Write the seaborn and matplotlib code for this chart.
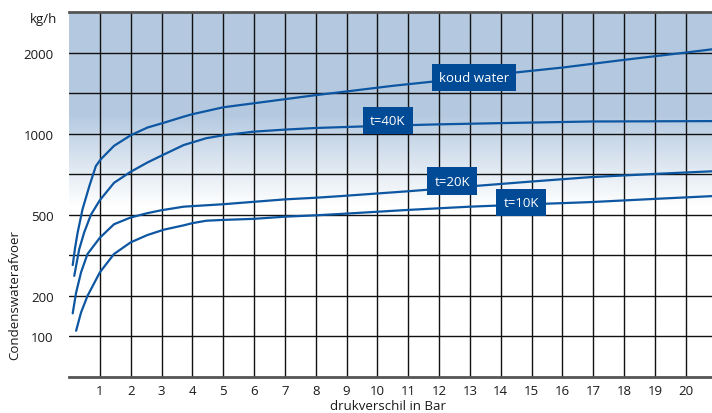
import matplotlib
matplotlib.use("Agg")
import matplotlib.pyplot as plt
import seaborn as sns
import pandas as pd
import numpy as np
from matplotlib.colors import LinearSegmentedColormap

# --- data (x = bar, y = kg/h) ---
koud_x = [0.12, 0.2, 0.28, 0.44, 0.66, 0.87, 1.03, 1.46, 2.0, 2.54, 3.08, 3.72, 4.0,
          5.0, 6.0, 7.0, 8.0, 9.1, 10.5, 12.0, 14.0, 16.0, 18.0, 20.0, 20.85]
koud_y = [314, 380, 434, 535, 677, 800, 842, 925, 990, 1075, 1135, 1210, 1240,
          1325, 1375, 1425, 1475, 1525, 1590, 1650, 1735, 1815, 1910, 2000, 2040]

t40_x = [0.17, 0.33, 0.49, 0.71, 1.0, 1.46, 2.0, 2.54, 3.08, 3.72, 4.45, 5.0,
         6.0, 7.0, 8.0, 10.0, 12.0, 14.0, 16.9, 20.85]
t40_y = [274, 372, 434, 500, 590, 697, 765, 822, 872, 930, 972, 990,
         1025, 1050, 1070, 1095, 1115, 1130, 1150, 1155]

t20_x = [0.12, 0.23, 0.39, 0.6, 1.0, 1.46, 2.0, 2.54, 3.0, 3.72, 5.0, 6.0,
         7.0, 8.0, 8.8, 11.0, 13.0, 15.0, 16.9, 19.0, 20.85]
t20_y = [157, 212, 287, 355, 415, 465, 490, 510, 528, 550, 565, 580,
         595, 605, 615, 645, 675, 705, 732, 752, 768]

t10_x = [0.23, 0.39, 0.6, 1.0, 1.46, 2.0, 2.54, 3.08, 3.72, 4.0, 4.45, 5.0,
         6.0, 7.0, 8.0, 8.8, 11.0, 13.0, 15.0, 16.9, 19.0, 20.85]
t10_y = [114, 159, 200, 287, 355, 398, 425, 445, 461, 469, 478, 481,
         485, 493, 498, 505, 530, 550, 565, 578, 598, 615]

series_names = ["koud water", "t=40K", "t=20K", "t=10K"]
label_x = [13.13, 10.34, 12.43, 14.66]
label_y = [1695, 1165, 707, 577]

x_ticks = list(range(1, 21))
y_grid = [100, 200, 350, 500, 750, 1000, 1500, 2000]
y_labels = ["100", "200", "", "500", "", "1000", "", "2000"]

# non-uniform value axis of the original chart
scale_vals = [0, 100, 200, 500, 1000, 2000, 2500]
scale_rows = [0, 1, 2, 4, 6, 8, 9]


def forward(v):
    return np.interp(v, scale_vals, scale_rows)


def inverse(r):
    return np.interp(r, scale_rows, scale_vals)


frames = []
for name, xs, ys in zip(series_names, [koud_x, t40_x, t20_x, t10_x],
                        [koud_y, t40_y, t20_y, t10_y]):
    frames.append(pd.DataFrame({"druk": xs, "kgh": ys, "serie": name}))
df = pd.concat(frames, ignore_index=True)

sns.set_theme(style="white")
plt.rcParams["font.family"] = ["Open Sans", "DejaVu Sans"]

line_blue = "#0d56a2"
box_blue = "#004a96"
text_col = "#1a1a1a"

fig = plt.figure(figsize=(7.12, 4.14), dpi=100)
ax = fig.add_axes([69 / 712, 36 / 414, 643 / 712, 365 / 414])

# background gradient (blue on top fading to white)
cmap = LinearSegmentedColormap.from_list(
    "bg", [(0.0, "#ffffff"), (0.47, "#ffffff"), (0.72, "#b4c9e0"), (1.0, "#b4c9e0")])
grad = np.linspace(0, 1, 256).reshape(-1, 1)
ax.imshow(grad, cmap=cmap, aspect="auto", origin="lower",
          extent=[0, 1, 0, 1], transform=ax.transAxes, zorder=0)

sns.lineplot(data=df, x="druk", y="kgh", hue="serie", units="serie",
             estimator=None, sort=False, palette=[line_blue] * 4,
             legend=False, lw=1.6, ax=ax, zorder=3)

ax.set_yscale("function", functions=(forward, inverse))
ax.set_xlim(0, 20.85)
ax.set_ylim(0, 2500)
ax.set_xticks(x_ticks)
ax.set_xticklabels([str(t) for t in x_ticks], fontsize=9.5)
ax.set_yticks(y_grid)
ax.set_yticklabels(y_labels, fontsize=9.5)
ax.minorticks_off()
ax.tick_params(length=0, pad=11, colors=text_col)
ax.tick_params(axis="x", pad=5)
ax.grid(True, color="#111111", lw=1.0)
ax.set_axisbelow(True)
ax.set_xlabel("")
ax.set_ylabel("")

for side in ["left", "right"]:
    ax.spines[side].set_visible(False)
for side in ["top", "bottom"]:
    ax.spines[side].set_color("#555555")
    ax.spines[side].set_linewidth(2)

for name, lx, ly in zip(series_names, label_x, label_y):
    ax.text(lx, ly, name, color="white", fontsize=9.5, ha="center", va="center",
            zorder=5, bbox=dict(boxstyle="square,pad=0.55", fc=box_blue, ec="none"))

fig.text(57 / 712, 1 - 20 / 414, "kg/h", ha="right", va="center", fontsize=9.5, color=text_col)
fig.text(15 / 712, 1 - 295 / 414, "Condenswaterafvoer", rotation=90,
         ha="center", va="center", fontsize=9.5, color=text_col)
fig.text(388 / 712, 1 / 414, "drukverschil in Bar", ha="center", va="bottom",
         fontsize=9.5, color=text_col)

fig.savefig("out.png", dpi=100)
plt.close(fig)
